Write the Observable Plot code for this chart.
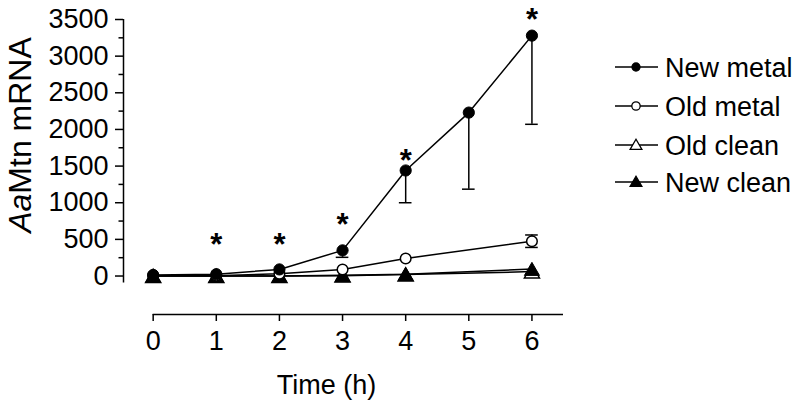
<!DOCTYPE html>
<html><head><meta charset="utf-8">
<script src="https://cdn.jsdelivr.net/npm/d3@7"></script>
<script src="https://cdn.jsdelivr.net/npm/@observablehq/plot@0.6"></script>
<style>body{margin:0;background:#fff} #chart{position:relative;width:800px;height:411px}</style>
</head><body><div id="chart"></div>
<script>
// ---- data ----
const times = [0, 1, 2, 3, 4, 5, 6];
const newMetal = [15, 25, 90, 350, 1440, 2230, 3280];
const newMetalLow = [null, null, null, 255, 1000, 1185, 2070];
const oldTimes = [0, 1, 2, 3, 4, 6];
const oldMetal = [5, 5, 30, 90, 240, 475];
const oldMetalErr = [0, 0, 0, 0, 0, 85];
const oldClean = [0, 0, 0, 5, 20, 60];
const newClean = [0, 0, 0, 10, 25, 95];
const starTimes = [1, 2, 3, 4, 6];
const starY = [485, 490, 760, 1640, 3565];
const seriesNames = ["New metal", "Old metal", "Old clean", "New clean"];
const xTicks = [0, 1, 2, 3, 4, 5, 6];
const yTicks = [0, 500, 1000, 1500, 2000, 2500, 3000, 3500];
const yMinorTicks = [250, 750, 1250, 1750, 2250, 2750, 3250];
const xAxisLabel = "Time (h)";
const yLabelItalic = "Aa";
const yLabelRest = "Mtn mRNA";

// ---- tables ----
const nm = times.map((t, i) => ({t, v: newMetal[i], lo: newMetalLow[i]}));
const om = oldTimes.map((t, i) => ({t, v: oldMetal[i], e: oldMetalErr[i]}));
const oc = oldTimes.map((t, i) => ({t, v: oldClean[i]}));
const nc = oldTimes.map((t, i) => ({t, v: newClean[i]}));
const stars = starTimes.map((t, i) => ({t, y: starY[i]}));

const nmErr = nm.filter(d => d.lo != null);
const omErr = om.filter(d => d.e > 0).map(d => ({t: d.t, lo: d.v - d.e, hi: d.v + d.e}));
const caps = [
  ...nmErr.map(d => ({t: d.t, y: d.lo})),
  ...omErr.flatMap(d => [{t: d.t, y: d.lo}, {t: d.t, y: d.hi}])
];
const capHalf = 0.1;

const xDomain = [-0.47, 6.5];
const yDomain = [-525, 3500];
const yAxisBottom = -95;
const font = "'Liberation Sans', Arial, Helvetica, sans-serif";
const sw = 1.5;

const svg = Plot.plot({
  width: 800,
  height: 411,
  marginLeft: 123,
  marginRight: 237,
  marginTop: 19,
  marginBottom: 97,
  style: {fontFamily: font, fontSize: "27px", background: "white", color: "black"},
  x: {domain: xDomain},
  y: {domain: yDomain},
  marks: [
    // axis lines
    Plot.ruleX([xDomain[0]], {y1: yAxisBottom, y2: yTicks[yTicks.length - 1], stroke: "black", strokeWidth: sw}),
    Plot.ruleY([yDomain[0]], {x1: xTicks[0], x2: xDomain[1], stroke: "black", strokeWidth: sw}),
    // ticks and labels
    Plot.axisY({ticks: yTicks, tickSize: 8, tickPadding: 7, fontSize: 27, strokeWidth: sw, tickFormat: d3.format("d"), label: null}),
    Plot.axisY({ticks: yMinorTicks, tickSize: 4.5, strokeWidth: sw, tickFormat: () => "", label: null}),
    Plot.axisX({ticks: xTicks, tickSize: 7, tickPadding: 9, fontSize: 27, strokeWidth: sw, tickFormat: d3.format("d"), label: null}),
    Plot.text([xAxisLabel], {frameAnchor: "bottom", dx: -17, dy: 71, fontSize: 27, lineAnchor: "middle"}),
    // series lines
    Plot.line(oc, {x: "t", y: "v", stroke: "black", strokeWidth: sw}),
    Plot.line(nc, {x: "t", y: "v", stroke: "black", strokeWidth: sw}),
    Plot.line(om, {x: "t", y: "v", stroke: "black", strokeWidth: sw}),
    Plot.line(nm, {x: "t", y: "v", stroke: "black", strokeWidth: sw}),
    // error bars
    Plot.ruleX(nmErr, {x: "t", y1: "v", y2: "lo", stroke: "black", strokeWidth: sw}),
    Plot.ruleX(omErr, {x: "t", y1: "lo", y2: "hi", stroke: "black", strokeWidth: sw}),
    Plot.ruleY(caps, {y: "y", x1: d => d.t - capHalf, x2: d => d.t + capHalf, stroke: "black", strokeWidth: sw}),
    // markers
    Plot.dot(oc, {x: "t", y: "v", symbol: "triangle", r: 5.6, dy: 2, fill: "white", stroke: "black", strokeWidth: sw}),
    Plot.dot(nc, {x: "t", y: "v", symbol: "triangle", r: 5.6, dy: 2, fill: "black", stroke: "black", strokeWidth: 1}),
    Plot.dot(om, {x: "t", y: "v", r: 5.3, fill: "white", stroke: "black", strokeWidth: sw}),
    Plot.dot(nm, {x: "t", y: "v", r: 5.6, fill: "black", stroke: "black", strokeWidth: 1}),
    // significance stars
    Plot.text(stars, {x: "t", y: "y", text: () => "*", fontSize: 31, fontWeight: "bold", dy: 5, lineAnchor: "middle"})
  ]
});

const s = d3.select(svg);
// y axis title with italic species prefix
const yl = s.append("text")
  .attr("transform", "translate(31,135) rotate(-90)")
  .attr("text-anchor", "middle")
  .attr("font-family", font)
  .attr("font-size", 32)
  .attr("fill", "black");
yl.append("tspan").attr("font-style", "italic").text(yLabelItalic);
yl.append("tspan").text(yLabelRest);

// legend
const rowY = [67, 106, 145, 182];
const legendSym = [
  {type: d3.symbolCircle, size: 50, fill: "black"},
  {type: d3.symbolCircle, size: 55, fill: "white"},
  {type: d3.symbolTriangle, size: 60, fill: "white"},
  {type: d3.symbolTriangle, size: 60, fill: "black"}
];
const lg = s.append("g").attr("font-family", font).attr("font-size", 27).attr("text-anchor", "start");
seriesNames.forEach((name, i) => {
  const g = lg.append("g").attr("transform", `translate(0,${rowY[i]})`);
  g.append("line").attr("x1", 615).attr("x2", 658).attr("stroke", "black").attr("stroke-width", sw);
  g.append("path")
    .attr("transform", `translate(636,${legendSym[i].type === d3.symbolTriangle ? 1 : 0})`)
    .attr("d", d3.symbol(legendSym[i].type, legendSym[i].size)())
    .attr("fill", legendSym[i].fill).attr("stroke", "black").attr("stroke-width", 1.3);
  g.append("text").attr("x", 665).attr("dy", "0.36em").attr("fill", "black").text(name);
});

document.getElementById("chart").appendChild(svg);
</script>
</body></html>
